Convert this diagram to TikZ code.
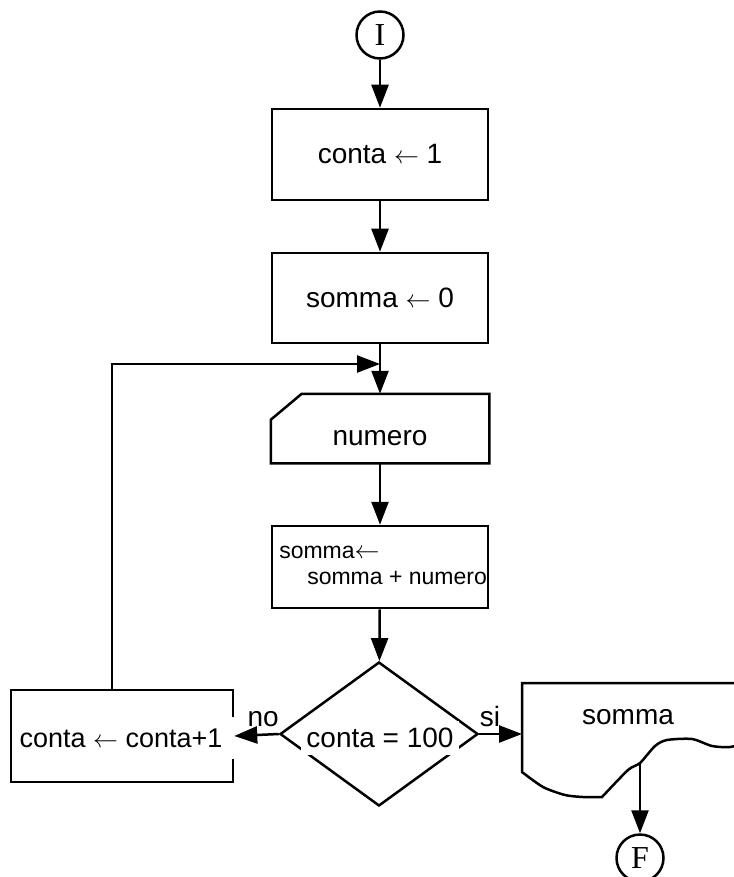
\documentclass[tikz,border=0pt]{standalone}
\usepackage{fontspec}
\setmainfont{Liberation Sans}
\newfontfamily\termfont{Liberation Serif}
\usetikzlibrary{arrows.meta,shapes.geometric}
\begin{document}
\begin{tikzpicture}[x=1pt,y=-1pt, line width=2.5pt,
  arr/.style={-{Triangle[length=23pt,width=17pt]}},
  stepbox/.style={draw, rectangle, inner sep=0pt, minimum width=216pt},
  txt/.style={font=\fontsize{28}{32}\selectfont},
  small/.style={font=\fontsize{23}{27}\selectfont, inner sep=0pt},
  term/.style={draw, circle, inner sep=0pt, minimum size=47pt,
               font=\termfont\fontsize{32}{36}\selectfont},
  mask/.style={fill=white, inner xsep=9pt, inner ysep=9pt}
]
\useasboundingbox (0,0) rectangle (733,877);

% terminals
\node[term] (start) at (380,35) {I};
\node[term] (stop)  at (640,858) {F};

% assignments
\node[stepbox, minimum height=91pt, txt] (init1) at (380,154.5) {conta $\leftarrow$ 1};
\node[stepbox, minimum height=90pt, txt] (init2) at (380,298) {somma $\leftarrow$ 0};

% input block with cut corner
\node[stepbox, draw=none, minimum height=67pt, txt] (input) at (380,428.5) {};
\draw ([yshift=-26pt]input.north west) -- ([xshift=31pt]input.north west)
      -- (input.north east) -- (input.south east) -- (input.south west) -- cycle;
\node[txt] at (380,438) {numero};

% accumulation
\node[stepbox, minimum height=82pt] (accum) at (380,567) {};
\node[small, anchor=base west] at (278,558) {somma$\leftarrow$};
\node[small, anchor=base west] at (306,584) {somma + numero};

% test
\node[draw, diamond, inner sep=0pt, minimum width=198pt, minimum height=144pt] (test) at (379,734) {};
\node[txt, mask, inner xsep=5pt, inner ysep=7pt] at (380,738) {conta = 100};

% increment (its label breaks the right edge)
\node[draw, rectangle, inner sep=0pt, minimum width=222pt, minimum height=92pt] (incr) at (122,736) {};
\node[font=\fontsize{27}{31}\selectfont, inner xsep=2pt, inner ysep=10pt] (incrtxt) at (121,738) {conta $\leftarrow$ conta+1};
\fill[white] (incrtxt.north east) rectangle ([xshift=14pt]incrtxt.south east);

% output document
\draw (745,683) -- (522,683) -- (522,772)
  -- plot[smooth, tension=0.45] coordinates {(522,772) (543,787) (565,795) (583,797) (602,797)}
  -- plot[smooth, tension=0.45] coordinates {(602,797) (628,770) (640,763) (655,746) (667,740) (692,739) (712,746) (730,747) (745,743)};
\node[txt] (outtxt) at (628,717) {somma};
\coordinate (docin) at (522,734);
\coordinate (docout) at (640,763);

% flow
\draw[arr] (start) -- (init1);
\draw[arr] (init1) -- (init2);
\coordinate (join) at (380,364);
\draw[arr] (init2) -- (input);
\draw[arr] ([xshift=102pt]incr.north west) |- (join);
\draw[arr] (input) -- (accum);
\draw[arr] (accum) -- (test);
\draw[arr] (test.west) -- (incr.east) node[pos=0.35, above=3pt, txt] {no};
\draw[arr] (test.east) -- (docin) node[pos=0.25, above=3pt, txt] {si};
\draw[arr] (docout) -- (stop);
\end{tikzpicture}
\end{document}
